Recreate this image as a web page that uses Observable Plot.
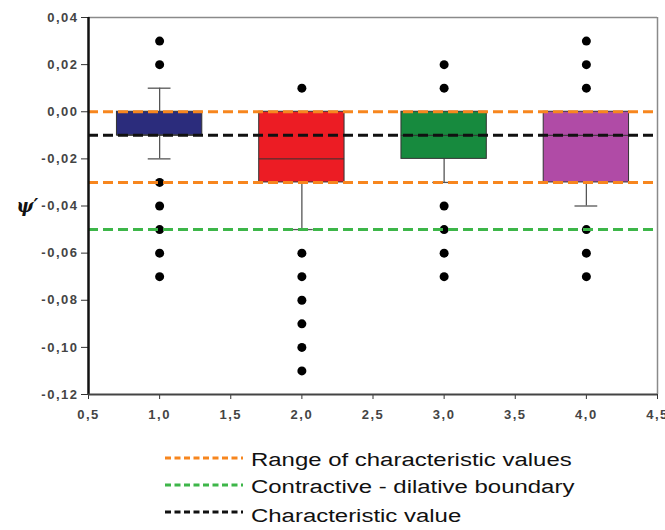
<!DOCTYPE html>
<html>
<head>
<meta charset="utf-8">
<script src="https://cdn.jsdelivr.net/npm/d3@7"></script>
<script src="https://cdn.jsdelivr.net/npm/@observablehq/plot@0.6"></script>
<style>
  html, body { margin: 0; padding: 0; background: #fff; }
  body { width: 665px; height: 530px; overflow: hidden; font-family: "Liberation Sans", Arial, sans-serif; }
  #chart svg { display: block; }
  #chart svg [aria-label="y-axis tick label"] text,
  #chart svg [aria-label="x-axis tick label"] text { letter-spacing: 1.5px; }
  #legend { margin-top: 16px; padding-left: 165px; }
  .row { display: flex; align-items: center; height: 27px; }
  .row svg { flex: none; }
  .row span { display: inline-block; margin-left: 8px; font-size: 18px; line-height: 20px; color: #111; transform: scaleX(1.33); transform-origin: left center; white-space: nowrap; }
  .row.last span { position: relative; top: 2px; }
</style>
</head>
<body>
<div id="chart"></div>
<div id="legend"></div>
<script>
// ---- data ----
const groups      = [1, 2, 3, 4];
const q1          = [-0.01, -0.03, -0.02, -0.03];
const q3          = [0.00, 0.00, 0.00, 0.00];
const medians     = [-0.01, -0.02, -0.01, -0.01];
const whiskerLow  = [-0.02, -0.05, -0.03, -0.04];
const whiskerHigh = [0.01, 0.00, 0.00, 0.00];
const outliers1 = [0.03, 0.02, -0.03, -0.04, -0.05, -0.06, -0.07];
const outliers2 = [0.01, -0.06, -0.07, -0.08, -0.09, -0.10, -0.11];
const outliers3 = [0.02, 0.01, -0.04, -0.05, -0.06, -0.07];
const outliers4 = [0.03, 0.02, 0.01, -0.05, -0.06, -0.07];
const rangeValues = [0.00, -0.03];
const boundaryValue = [-0.05];
const characteristicValue = [-0.01];
const xTicks = [0.5, 1.0, 1.5, 2.0, 2.5, 3.0, 3.5, 4.0, 4.5];
const yTicks = [0.04, 0.02, 0.00, -0.02, -0.04, -0.06, -0.08, -0.10, -0.12];
const legendLabels = ["Range of characteristic values", "Contractive - dilative boundary", "Characteristic value"];

// ---- styles ----
const boxColors = ["#2b2c7c", "#ec1c24", "#178a3e", "#b04ba6"];
const orange = "#f7861e", green = "#3db649", black = "#111";
const half = 0.3, cap = 0.08;

const boxes = groups.map((g, i) => ({
  g, q1: q1[i], q3: q3[i], med: medians[i], lo: whiskerLow[i], hi: whiskerHigh[i], color: boxColors[i]
}));
const caps = [];
boxes.forEach(b => {
  if (b.lo < b.q1) caps.push({g: b.g, y: b.lo});
  if (b.hi > b.q3) caps.push({g: b.g, y: b.hi});
});
const outliers = [outliers1, outliers2, outliers3, outliers4]
  .flatMap((arr, i) => arr.map(v => ({g: groups[i], y: v})));

const comma = f => v => d3.format(f)(v).replace(".", ",").replace("−", "-");

const dash = "10,5";
const plot = Plot.plot({
  width: 665,
  height: 430,
  marginLeft: 88,
  marginRight: 8,
  marginTop: 17,
  marginBottom: 36,
  style: {fontFamily: "'Liberation Sans', Arial, sans-serif", background: "#fff"},
  x: {domain: [0.5, 4.5], axis: null},
  y: {domain: [-0.12, 0.04], axis: null},
  marks: [
    // frame
    Plot.ruleY([0.04], {stroke: "#8a8a8a", strokeWidth: 1.5}),
    Plot.ruleX([4.5], {stroke: "#8a8a8a", strokeWidth: 1.5}),
    // whiskers
    Plot.ruleX(boxes, {x: "g", y1: "lo", y2: "q1", stroke: "#555", strokeWidth: 1.3}),
    Plot.ruleX(boxes, {x: "g", y1: "q3", y2: "hi", stroke: "#555", strokeWidth: 1.3}),
    Plot.ruleY(caps, {y: "y", x1: d => d.g - cap, x2: d => d.g + cap, stroke: "#555", strokeWidth: 1.3}),
    // boxes
    Plot.rect(boxes, {x1: d => d.g - half, x2: d => d.g + half, y1: "q1", y2: "q3", fill: "color", stroke: "#333", strokeWidth: 1}),
    Plot.ruleY(boxes, {y: "med", x1: d => d.g - half, x2: d => d.g + half, stroke: "#333", strokeWidth: 1}),
    // outliers
    Plot.dot(outliers, {x: "g", y: "y", r: 4.5, fill: "#000", stroke: null}),
    // reference lines
    Plot.ruleY(rangeValues, {stroke: orange, strokeWidth: 3, strokeDasharray: dash}),
    Plot.ruleY(boundaryValue, {stroke: green, strokeWidth: 3, strokeDasharray: dash}),
    Plot.ruleY(characteristicValue, {stroke: black, strokeWidth: 3, strokeDasharray: dash}),
    // axes
    Plot.axisY(yTicks, {tickFormat: comma(".2f"), tickSize: 7, tickPadding: 3, fontSize: 13, fontWeight: "bold", fill: "#444", stroke: "#333", label: null}),
    Plot.axisX(xTicks, {tickFormat: comma(".1f"), tickSize: 5, tickPadding: 10, fontSize: 13, fontWeight: "bold", fill: "#444", stroke: "#333", label: null}),
    Plot.ruleX([0.5], {stroke: "#111", strokeWidth: 2.5}),
    Plot.ruleY([-0.12], {stroke: "#444", strokeWidth: 2}),
    Plot.text(["ψ′"], {frameAnchor: "left", dx: -72, textAnchor: "start", fontSize: 18, fontWeight: "bold", fontStyle: "italic", fontFamily: "'DejaVu Serif', serif", fill: "#111"})
  ]
});
document.getElementById("chart").append(plot);

// legend
const legendColors = [orange, green, black];
const legend = d3.select("#legend");
legendLabels.forEach((lab, i) => {
  const row = legend.append("div").attr("class", i === legendLabels.length - 1 ? "row last" : "row");
  const s = row.append("svg").attr("width", 78).attr("height", 10);
  s.append("line").attr("x1", 0).attr("x2", 78).attr("y1", 3).attr("y2", 3)
    .attr("stroke", legendColors[i]).attr("stroke-width", 3).attr("stroke-dasharray", "6,3.5");
  row.append("span").text(lab);
});
</script>
</body>
</html>
